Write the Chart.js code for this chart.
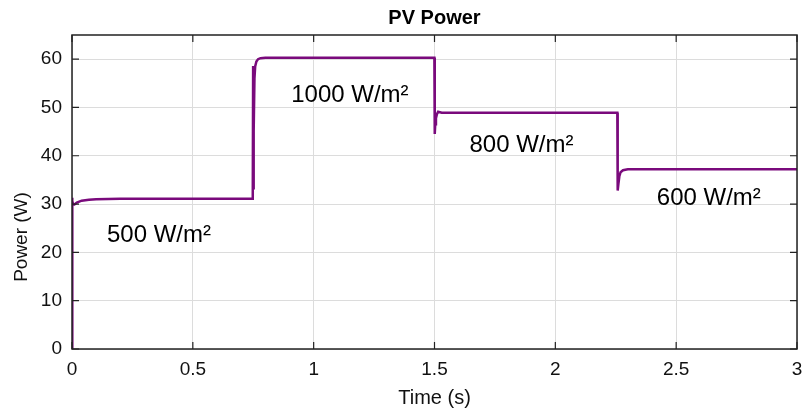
<!DOCTYPE html>
<html>
<head>
<meta charset="utf-8">
<script src="https://cdn.jsdelivr.net/npm/chart.js@4/dist/chart.umd.min.js"></script>
<style>
  html, body { margin: 0; padding: 0; background: #fff; }
  #wrap { width: 805px; height: 414px; }
</style>
</head>
<body>
<div id="wrap"><canvas id="grafico"></canvas></div>
<script>
// dados (tempo em s, potência em W)
const tempo = [0, 0.0005, 0.002, 0.005, 0.01, 0.02, 0.04, 0.07, 0.1, 0.2, 0.4, 0.6, 0.748,
  0.7495, 0.751, 0.7525, 0.755, 0.758, 0.763, 0.77, 0.78, 0.8, 0.9, 1.2, 1.4995,
  1.501, 1.503, 1.506, 1.51, 1.515, 1.53, 1.7, 2.0, 2.2565,
  2.258, 2.261, 2.265, 2.27, 2.28, 2.3, 2.5, 2.8, 3];
const potencia = [0, 31.3, 30.6, 29.9, 29.9, 30.3, 30.7, 30.9, 31.0, 31.1, 31.1, 31.1, 31.1,
  58.6, 33, 45, 56, 58.5, 59.5, 60.0, 60.2, 60.3, 60.3, 60.3, 60.3,
  44.5, 46.5, 47.8, 48.6, 49.1, 48.9, 48.9, 48.9, 48.9,
  32.8, 34.2, 35.8, 36.6, 37.0, 37.2, 37.2, 37.2, 37.2];

// rótulos de irradiância (posição em coordenadas dos dados)
const rotulos = ['500 W/m²', '1000 W/m²', '800 W/m²', '600 W/m²'];
const rotuloX = [0.36, 1.15, 1.86, 2.635];
const rotuloY = [23.6, 52.5, 42.1, 31.1];

const ticksX = [0, 0.5, 1, 1.5, 2, 2.5, 3];
const ticksY = [0, 10, 20, 30, 40, 50, 60];

const fonte = "'Liberation Sans', Arial, sans-serif";

// Plugin: título, rótulos, moldura e marcas internas
const extras = {
  id: 'extras',
  afterDraw(chart) {
    const ctx = chart.ctx;
    const area = chart.chartArea;
    const sx = chart.scales.x;
    const sy = chart.scales.y;
    ctx.save();

    // moldura
    ctx.strokeStyle = '#222';
    ctx.lineWidth = 1.5;
    ctx.strokeRect(area.left, area.top, area.right - area.left, area.bottom - area.top);

    // marcas internas
    ctx.lineWidth = 1.2;
    ticksX.forEach(v => {
      const px = sx.getPixelForValue(v);
      ctx.beginPath();
      ctx.moveTo(px, area.bottom); ctx.lineTo(px, area.bottom - 7);
      ctx.moveTo(px, area.top); ctx.lineTo(px, area.top + 7);
      ctx.stroke();
    });
    ticksY.forEach(v => {
      const py = sy.getPixelForValue(v);
      ctx.beginPath();
      ctx.moveTo(area.left, py); ctx.lineTo(area.left + 7, py);
      ctx.moveTo(area.right, py); ctx.lineTo(area.right - 7, py);
      ctx.stroke();
    });

    // título
    ctx.fillStyle = '#000';
    ctx.font = "bold 20px " + fonte;
    ctx.textAlign = 'center';
    ctx.textBaseline = 'middle';
    ctx.fillText('PV Power', (area.left + area.right) / 2, 18);

    // título do eixo y (mais abaixo do centro, como no original)
    ctx.save();
    ctx.font = "19px " + fonte;
    ctx.fillStyle = '#111';
    ctx.translate(22, 237);
    ctx.rotate(-Math.PI / 2);
    ctx.fillText('Power (W)', 0, 0);
    ctx.restore();

    // rótulos de irradiância
    ctx.font = "24px " + fonte;
    rotulos.forEach((txt, i) => {
      ctx.fillText(txt, sx.getPixelForValue(rotuloX[i]), sy.getPixelForValue(rotuloY[i]));
    });
    ctx.restore();
  }
};

function gerarGrafico() {
  const ctx = document.getElementById('grafico').getContext('2d');
  new Chart(ctx, {
    type: 'line',
    data: {
      datasets: [{
        label: 'PV Power',
        data: tempo.map((t, i) => ({ x: t, y: potencia[i] })),
        borderColor: '#7a0a7c',
        borderWidth: 2.5,
        pointRadius: 0,
        tension: 0,
        fill: false
      }]
    },
    options: {
      responsive: true,
      maintainAspectRatio: false,
      animation: false,
      layout: { padding: { top: 35, right: 8, left: 0, bottom: 0 } },
      plugins: {
        legend: { display: false },
        tooltip: { enabled: false },
        title: { display: false }
      },
      scales: {
        x: {
          type: 'linear',
          min: 0,
          max: 3,
          afterBuildTicks: axis => { axis.ticks = ticksX.map(v => ({ value: v })); },
          afterFit: axis => {
            axis.height = 65;
            axis.paddingLeft = 0;
            axis.paddingRight = 0;
          },
          grid: { color: '#dcdcdc', drawTicks: false, lineWidth: 1 },
          border: { display: false },
          ticks: {
            padding: 9,
            color: '#111',
            font: { family: fonte, size: 19 },
            maxRotation: 0,
            callback: v => String(v)
          },
          title: {
            display: true,
            text: 'Time (s)',
            color: '#111',
            font: { family: fonte, size: 20 },
            padding: { top: 6 }
          }
        },
        y: {
          min: 0,
          max: 65,
          afterBuildTicks: axis => { axis.ticks = ticksY.map(v => ({ value: v })); },
          afterFit: axis => { axis.width = 72; },
          grid: { color: '#dcdcdc', drawTicks: false, lineWidth: 1 },
          border: { display: false },
          ticks: {
            padding: 10,
            color: '#111',
            font: { family: fonte, size: 19 }
          },
          title: { display: false }
        }
      }
    },
    plugins: [extras]
  });
}

document.addEventListener('DOMContentLoaded', gerarGrafico);
</script>
</body>
</html>
